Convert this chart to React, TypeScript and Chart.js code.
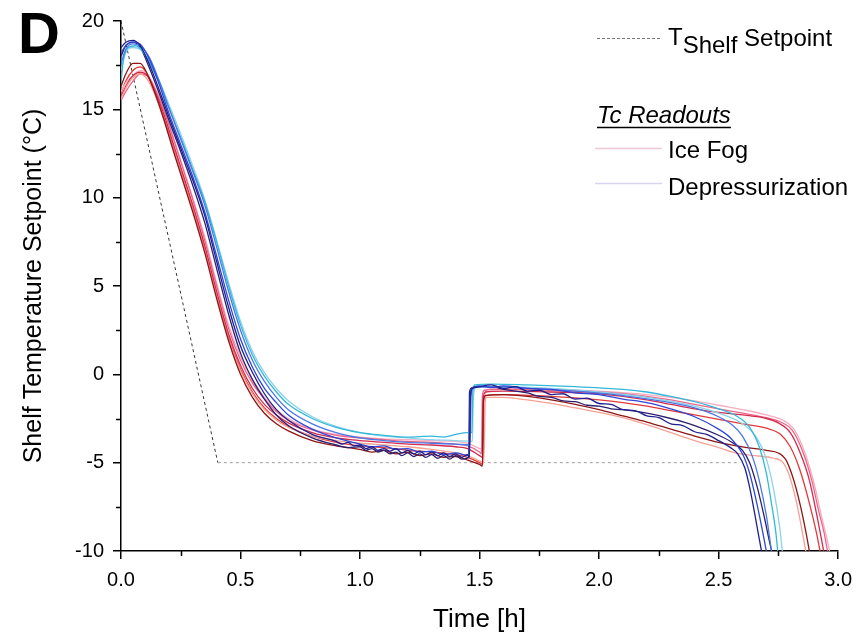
import React, { useEffect, useRef } from 'react';
import { Chart, registerables } from 'chart.js';

Chart.register(...registerables);

const FONT = '"Liberation Sans", Arial, Helvetica, sans-serif';

// ---- axis ticks ----
const X_MIN = 0;
const X_MAX = 3;
const X_STEP = 0.5;
const X_MINOR = [0.25, 0.75, 1.25, 1.75, 2.25, 2.75];
const Y_MIN = -10;
const Y_MAX = 20;
const Y_STEP = 5;
const Y_MINOR = [-7.5, -2.5, 2.5, 7.5, 12.5, 17.5];

// ---- legend texts ----
const PANEL_LABEL = 'D';
const LEGEND_SETPOINT = ['T', 'Shelf', 'Setpoint'];
const LEGEND_GROUP = 'Tc Readouts';
const LEGEND_ICE = 'Ice Fog';
const LEGEND_DEP = 'Depressurization';

// ---- shelf setpoint [time h, °C] ----
const SETPOINT: number[][] = [[0, 20], [0.405, -5], [2.59, -5]];

// ---- Depressurization thermocouples [time h, °C] ----
const DEP_1: number[][] = [[0,18.5],[0.02,18.8],[0.05,18.9],[0.08,18.6],[0.12,17.5],[0.16,16.1],[0.2,14.6],[0.25,12.8],[0.3,11.0],[0.35,9.0],[0.4,6.4],[0.45,3.8],[0.5,1.6],[0.55,0.1],[0.6,-1.1],[0.65,-2.0],[0.7,-2.6],[0.8,-3.4],[0.9,-3.8],[0.925,-3.95],[0.95,-3.85],[0.975,-4.05],[1.0,-4.0],[1.025,-4.2],[1.05,-4.1],[1.075,-4.3],[1.1,-4.2],[1.125,-4.35],[1.15,-4.2],[1.175,-4.45],[1.2,-4.3],[1.225,-4.5],[1.25,-4.35],[1.275,-4.55],[1.3,-4.4],[1.325,-4.6],[1.35,-4.45],[1.375,-4.65],[1.4,-4.5],[1.425,-4.7],[1.45,-4.55],[1.458,-4.7],[1.462,-1.2],[1.47,-0.8],[1.5,-0.7],[1.55,-0.6],[1.6,-0.8],[1.65,-0.7],[1.7,-0.95],[1.75,-0.9],[1.8,-1.15],[1.85,-1.1],[1.9,-1.4],[1.95,-1.35],[2.0,-1.65],[2.05,-1.7],[2.1,-2.0],[2.15,-2.05],[2.2,-2.35],[2.25,-2.45],[2.3,-2.8],[2.35,-2.9],[2.4,-3.25],[2.45,-3.4],[2.5,-3.75],[2.55,-4.15],[2.58,-4.5],[2.61,-5.3],[2.63,-6.4],[2.65,-7.8],[2.67,-9.3],[2.685,-10.4]];
const DEP_2: number[][] = [[0,18.2],[0.02,18.6],[0.05,18.8],[0.08,18.7],[0.12,17.8],[0.16,16.4],[0.2,14.8],[0.25,13.0],[0.3,11.2],[0.35,9.2],[0.4,6.7],[0.45,4.2],[0.5,2.0],[0.55,0.4],[0.6,-0.8],[0.65,-1.6],[0.7,-2.3],[0.8,-3.1],[0.9,-3.6],[1.0,-3.95],[1.05,-4.1],[1.1,-4.05],[1.15,-4.25],[1.2,-4.2],[1.25,-4.4],[1.3,-4.35],[1.35,-4.55],[1.4,-4.45],[1.455,-4.6],[1.46,-1.5],[1.465,-0.8],[1.5,-0.65],[1.55,-0.75],[1.6,-0.65],[1.7,-0.8],[1.8,-0.85],[1.9,-1.05],[2.0,-1.15],[2.1,-1.4],[2.2,-1.6],[2.3,-1.95],[2.4,-2.4],[2.5,-3.1],[2.55,-3.6],[2.6,-4.5],[2.63,-5.6],[2.66,-7.3],[2.69,-9.3],[2.705,-10.4]];
const DEP_3: number[][] = [[0,17.6],[0.02,18.4],[0.05,18.7],[0.08,18.6],[0.12,17.9],[0.16,16.6],[0.2,15.1],[0.25,13.3],[0.3,11.5],[0.35,9.6],[0.4,7.2],[0.45,4.7],[0.5,2.5],[0.55,0.8],[0.6,-0.4],[0.65,-1.3],[0.7,-2.0],[0.8,-2.8],[0.9,-3.3],[1.0,-3.6],[1.1,-3.75],[1.2,-3.85],[1.3,-3.9],[1.4,-3.95],[1.46,-4.0],[1.465,-1.2],[1.475,-0.75],[1.55,-0.7],[1.7,-0.8],[1.9,-0.95],[2.1,-1.2],[2.3,-1.6],[2.4,-1.9],[2.5,-2.4],[2.56,-2.9],[2.6,-3.5],[2.64,-4.6],[2.67,-6.0],[2.7,-8.0],[2.725,-10.4]];
const DEP_4: number[][] = [[0,16.5],[0.01,17.8],[0.03,18.5],[0.06,18.6],[0.09,18.3],[0.12,17.6],[0.16,16.5],[0.2,15.1],[0.25,13.4],[0.3,11.6],[0.35,9.8],[0.4,7.5],[0.45,5.0],[0.5,2.8],[0.55,1.1],[0.6,-0.1],[0.65,-1.0],[0.7,-1.7],[0.8,-2.5],[0.9,-3.0],[1.0,-3.3],[1.1,-3.45],[1.2,-3.55],[1.3,-3.5],[1.35,-3.55],[1.4,-3.4],[1.45,-3.3],[1.468,-3.3],[1.472,-1.0],[1.48,-0.6],[1.55,-0.55],[1.7,-0.6],[1.9,-0.7],[2.1,-0.85],[2.2,-1.0],[2.3,-1.25],[2.4,-1.55],[2.5,-1.95],[2.58,-2.4],[2.63,-3.0],[2.67,-4.1],[2.7,-5.6],[2.72,-7.2],[2.74,-9.0],[2.75,-10.4]];
const DEP_5: number[][] = [[0,17.2],[0.02,18.2],[0.05,18.5],[0.08,18.4],[0.12,17.7],[0.16,16.6],[0.2,15.3],[0.25,13.6],[0.3,11.8],[0.35,9.9],[0.4,7.6],[0.45,5.2],[0.5,3.0],[0.55,1.3],[0.6,0.1],[0.65,-0.8],[0.7,-1.5],[0.8,-2.4],[0.9,-2.95],[1.0,-3.3],[1.1,-3.5],[1.2,-3.6],[1.3,-3.7],[1.4,-3.75],[1.47,-3.8],[1.474,-1.3],[1.485,-0.75],[1.6,-0.7],[1.8,-0.8],[2.0,-1.0],[2.2,-1.3],[2.4,-1.8],[2.5,-2.2],[2.6,-2.8],[2.66,-3.6],[2.7,-4.8],[2.73,-6.5],[2.755,-8.6],[2.77,-10.4]];
const DEP_6: number[][] = [[0,18.0],[0.02,18.6],[0.05,18.8],[0.08,18.5],[0.12,17.3],[0.16,15.9],[0.2,14.4],[0.25,12.6],[0.3,10.7],[0.35,8.6],[0.4,6.0],[0.45,3.4],[0.5,1.2],[0.55,-0.3],[0.6,-1.4],[0.65,-2.3],[0.7,-2.9],[0.8,-3.6],[0.9,-4.0],[0.95,-4.15],[1.0,-4.1],[1.025,-4.3],[1.05,-4.2],[1.075,-4.4],[1.1,-4.3],[1.125,-4.5],[1.15,-4.4],[1.175,-4.6],[1.2,-4.45],[1.225,-4.65],[1.25,-4.5],[1.275,-4.7],[1.3,-4.55],[1.325,-4.75],[1.35,-4.6],[1.375,-4.8],[1.4,-4.6],[1.425,-4.8],[1.455,-4.7],[1.458,-1.0],[1.47,-0.75],[1.55,-0.7],[1.6,-0.85],[1.65,-0.95],[1.7,-1.05],[1.75,-1.25],[1.8,-1.3],[1.85,-1.5],[1.9,-1.55],[1.95,-1.75],[2.0,-1.8],[2.05,-1.95],[2.1,-2.0],[2.2,-2.2],[2.3,-2.5],[2.4,-2.9],[2.5,-3.45],[2.55,-3.8],[2.6,-4.3],[2.63,-5.0],[2.66,-6.3],[2.69,-8.0],[2.715,-9.6],[2.73,-10.4]];

// ---- Ice Fog thermocouples [time h, °C] ----
const ICE_1: number[][] = [[0,16.3],[0.02,17.0],[0.05,17.6],[0.08,17.6],[0.11,17.0],[0.14,16.0],[0.18,14.4],[0.22,12.6],[0.26,10.9],[0.3,9.2],[0.35,6.9],[0.4,4.3],[0.45,1.9],[0.5,0.0],[0.55,-1.3],[0.6,-2.2],[0.65,-2.8],[0.7,-3.2],[0.8,-3.75],[0.9,-4.05],[1.0,-4.25],[1.05,-4.4],[1.1,-4.3],[1.15,-4.5],[1.2,-4.4],[1.25,-4.6],[1.3,-4.5],[1.35,-4.7],[1.4,-4.65],[1.45,-4.85],[1.5,-5.1],[1.512,-5.2],[1.516,-1.5],[1.525,-1.2],[1.6,-1.15],[1.7,-1.25],[1.8,-1.45],[1.9,-1.7],[2.0,-2.0],[2.1,-2.35],[2.2,-2.7],[2.3,-3.1],[2.4,-3.5],[2.5,-3.85],[2.6,-4.1],[2.7,-4.3],[2.75,-4.45],[2.78,-4.8],[2.81,-5.8],[2.84,-7.3],[2.865,-8.9],[2.885,-10.4]];
const ICE_2: number[][] = [[0,15.6],[0.02,16.2],[0.05,16.8],[0.08,17.0],[0.11,16.7],[0.14,15.9],[0.18,14.4],[0.22,12.7],[0.26,11.0],[0.3,9.3],[0.35,7.0],[0.4,4.4],[0.45,2.0],[0.5,0.2],[0.55,-1.1],[0.6,-2.0],[0.65,-2.6],[0.7,-3.0],[0.8,-3.5],[0.9,-3.75],[1.0,-3.9],[1.1,-4.0],[1.2,-4.1],[1.3,-4.25],[1.4,-4.45],[1.45,-4.6],[1.5,-4.9],[1.518,-5.0],[1.522,-1.6],[1.53,-1.3],[1.6,-1.3],[1.7,-1.45],[1.8,-1.65],[1.9,-1.9],[2.0,-2.15],[2.1,-2.45],[2.2,-2.85],[2.3,-3.3],[2.4,-3.75],[2.5,-4.15],[2.57,-4.45],[2.65,-4.6],[2.73,-4.75],[2.77,-5.0],[2.8,-5.9],[2.83,-7.5],[2.85,-8.9],[2.87,-10.4]];
const ICE_3: number[][] = [[0,15.7],[0.02,16.3],[0.05,16.9],[0.08,17.1],[0.11,16.9],[0.14,16.1],[0.18,14.7],[0.22,13.0],[0.26,11.3],[0.3,9.6],[0.35,7.3],[0.4,4.7],[0.45,2.3],[0.5,0.5],[0.55,-0.8],[0.6,-1.7],[0.65,-2.3],[0.7,-2.75],[0.8,-3.3],[0.9,-3.6],[1.0,-3.75],[1.1,-3.85],[1.2,-3.95],[1.3,-4.0],[1.4,-4.1],[1.45,-4.2],[1.5,-4.6],[1.512,-4.7],[1.516,-1.3],[1.525,-1.0],[1.6,-0.95],[1.8,-1.0],[2.0,-1.1],[2.1,-1.25],[2.2,-1.45],[2.3,-1.7],[2.4,-1.95],[2.5,-2.15],[2.6,-2.3],[2.7,-2.5],[2.75,-2.75],[2.8,-3.3],[2.84,-4.4],[2.88,-6.0],[2.91,-7.9],[2.93,-9.3],[2.945,-10.4]];
const ICE_4: number[][] = [[0,15.5],[0.02,16.0],[0.05,16.6],[0.08,17.0],[0.11,16.9],[0.14,16.2],[0.18,14.9],[0.22,13.3],[0.26,11.6],[0.3,9.9],[0.35,7.6],[0.4,5.0],[0.45,2.6],[0.5,0.8],[0.55,-0.5],[0.6,-1.4],[0.65,-2.1],[0.7,-2.6],[0.8,-3.15],[0.9,-3.45],[1.0,-3.6],[1.1,-3.7],[1.2,-3.8],[1.3,-3.85],[1.4,-3.95],[1.45,-4.05],[1.5,-4.4],[1.508,-4.5],[1.512,-1.2],[1.52,-0.9],[1.6,-0.85],[1.8,-0.9],[2.0,-1.0],[2.1,-1.1],[2.2,-1.25],[2.3,-1.45],[2.4,-1.7],[2.5,-1.95],[2.6,-2.2],[2.7,-2.45],[2.76,-2.7],[2.81,-3.2],[2.85,-4.3],[2.89,-6.0],[2.92,-7.8],[2.945,-9.2],[2.96,-10.4]];
const ICE_5: number[][] = [[0,16.0],[0.02,16.5],[0.05,16.9],[0.08,17.2],[0.11,17.0],[0.14,16.3],[0.18,15.0],[0.22,13.4],[0.26,11.7],[0.3,10.0],[0.35,7.8],[0.4,5.2],[0.45,2.8],[0.5,1.0],[0.55,-0.3],[0.6,-1.3],[0.65,-2.0],[0.7,-2.5],[0.8,-3.1],[0.9,-3.4],[1.0,-3.55],[1.1,-3.65],[1.2,-3.7],[1.3,-3.75],[1.4,-3.8],[1.45,-3.9],[1.5,-4.2],[1.52,-4.3],[1.524,-1.1],[1.535,-0.85],[1.6,-0.8],[1.8,-0.85],[2.0,-0.95],[2.2,-1.15],[2.4,-1.5],[2.5,-1.75],[2.6,-2.0],[2.7,-2.3],[2.77,-2.6],[2.82,-3.2],[2.86,-4.4],[2.9,-6.2],[2.93,-8.0],[2.955,-9.4],[2.97,-10.4]];
const ICE_6: number[][] = [[0,15.9],[0.02,16.6],[0.05,17.2],[0.08,17.4],[0.11,17.0],[0.14,16.0],[0.18,14.5],[0.22,12.8],[0.26,11.1],[0.3,9.4],[0.35,7.1],[0.4,4.5],[0.45,2.1],[0.5,0.3],[0.55,-1.0],[0.6,-1.9],[0.65,-2.5],[0.7,-2.95],[0.8,-3.5],[0.9,-3.85],[1.0,-4.05],[1.1,-4.15],[1.2,-4.3],[1.3,-4.4],[1.4,-4.55],[1.45,-4.7],[1.5,-5.0],[1.514,-5.1],[1.518,-1.5],[1.526,-1.2],[1.6,-1.15],[1.8,-1.25],[2.0,-1.45],[2.1,-1.6],[2.2,-1.8],[2.3,-2.05],[2.4,-2.3],[2.5,-2.55],[2.6,-2.8],[2.7,-3.05],[2.76,-3.4],[2.8,-4.1],[2.84,-5.4],[2.88,-7.3],[2.91,-9.0],[2.93,-10.4]];

const DEP_SERIES = [DEP_1, DEP_2, DEP_3, DEP_4, DEP_5, DEP_6];
const DEP_COLORS = ['#1f1f8f', '#2f47d8', '#4a78e6', '#33b8d8', '#8ad2ea', '#2a2070'];
const ICE_SERIES = [ICE_1, ICE_2, ICE_3, ICE_4, ICE_5, ICE_6];
const ICE_COLORS = ['#8e1616', '#f3a294', '#d42a4c', '#ee6488', '#f5adc0', '#e23a3a'];

const toXY = (arr: number[][]) => arr.map(([x, y]) => ({ x, y }));

const overlayPlugin = {
  id: 'overlay',
  afterDraw(chart: any) {
    const ctx: CanvasRenderingContext2D = chart.ctx;
    const xs = chart.scales.x;
    const ys = chart.scales.y;
    const area = chart.chartArea;
    ctx.save();
    // minor ticks
    ctx.strokeStyle = '#000';
    ctx.lineWidth = 1.5;
    X_MINOR.forEach((v) => {
      const px = Math.round(xs.getPixelForValue(v)) + 0.5;
      ctx.beginPath();
      ctx.moveTo(px, area.bottom);
      ctx.lineTo(px, area.bottom + 5);
      ctx.stroke();
    });
    Y_MINOR.forEach((v) => {
      const py = Math.round(ys.getPixelForValue(v)) + 0.5;
      ctx.beginPath();
      ctx.moveTo(area.left, py);
      ctx.lineTo(area.left - 5, py);
      ctx.stroke();
    });

    // panel label
    ctx.fillStyle = '#000';
    ctx.textAlign = 'left';
    ctx.textBaseline = 'alphabetic';
    ctx.font = `bold 58px ${FONT}`;
    ctx.fillText(PANEL_LABEL, 18, 53);

    // legend: setpoint
    ctx.strokeStyle = '#777';
    ctx.lineWidth = 1;
    ctx.setLineDash([3, 2]);
    ctx.beginPath();
    ctx.moveTo(597, 38.5);
    ctx.lineTo(661, 38.5);
    ctx.stroke();
    ctx.setLineDash([]);
    ctx.font = `24px ${FONT}`;
    let x = 668;
    ctx.fillText(LEGEND_SETPOINT[0], x, 45);
    x += ctx.measureText(LEGEND_SETPOINT[0]).width;
    ctx.fillText(LEGEND_SETPOINT[1], x, 53);
    x += ctx.measureText(LEGEND_SETPOINT[1] + ' ').width;
    ctx.fillText(LEGEND_SETPOINT[2], x, 46);

    // group header
    ctx.font = `italic 24px ${FONT}`;
    ctx.fillText(LEGEND_GROUP, 597, 123);
    const w = ctx.measureText(LEGEND_GROUP).width;
    ctx.lineWidth = 1.3;
    ctx.strokeStyle = '#000';
    ctx.beginPath();
    ctx.moveTo(597, 127.5);
    ctx.lineTo(597 + w, 127.5);
    ctx.stroke();

    // entries
    ctx.font = `24px ${FONT}`;
    ctx.lineWidth = 1.5;
    ctx.strokeStyle = '#ecc8d8';
    ctx.beginPath();
    ctx.moveTo(595, 148.5);
    ctx.lineTo(662, 148.5);
    ctx.stroke();
    ctx.fillText(LEGEND_ICE, 668, 158);
    ctx.strokeStyle = '#d6d6f0';
    ctx.beginPath();
    ctx.moveTo(595, 183.5);
    ctx.lineTo(662, 183.5);
    ctx.stroke();
    ctx.fillText(LEGEND_DEP, 668, 195);
    ctx.restore();
  },
};

export default function App() {
  const ref = useRef<HTMLCanvasElement>(null);
  useEffect(() => {
    if (!ref.current) return;
    Chart.defaults.font.family = FONT;
    Chart.defaults.color = '#000';
    const lineDs = (label: string, arr: number[][], color: string) => ({
      label,
      data: toXY(arr),
      borderColor: color,
      backgroundColor: color,
      borderWidth: 1.3,
      pointRadius: 0,
      showLine: true,
      fill: false,
      cubicInterpolationMode: 'monotone',
    });
    const datasets: any[] = [
      ...DEP_SERIES.map((s, i) => lineDs(`Depressurization ${i + 1}`, s, DEP_COLORS[i])),
      ...ICE_SERIES.map((s, i) => lineDs(`Ice Fog ${i + 1}`, s, ICE_COLORS[i])),
      {
        label: 'Shelf Setpoint',
        data: toXY(SETPOINT),
        borderColor: '#555',
        borderWidth: 1,
        borderDash: [3, 3],
        pointRadius: 0,
        showLine: true,
        fill: false,
        segment: {
          borderColor: (c: any) => (c.p0.parsed.x < 0.4 ? '#333' : '#a0a0a0'),
        },
      },
    ];
    const chart = new Chart(ref.current, {
      type: 'scatter',
      data: { datasets },
      plugins: [overlayPlugin],
      options: {
        animation: false,
        responsive: true,
        maintainAspectRatio: false,
        layout: { padding: { top: 16, right: 22, left: 0, bottom: 0 } },
        plugins: { legend: { display: false }, tooltip: { enabled: false } },
        scales: {
          x: {
            type: 'linear',
            min: X_MIN,
            max: X_MAX,
            afterFit: (s: any) => { s.height = 84; },
            ticks: {
              stepSize: X_STEP,
              font: { size: 20 },
              color: '#000',
              padding: 9,
              maxRotation: 0,
              callback: (v: any) => Number(v).toFixed(1),
            },
            grid: { drawOnChartArea: false, drawTicks: true, tickLength: 8, color: '#000', lineWidth: 1.5 },
            border: { color: '#000', width: 1.5 },
            title: { display: true, text: 'Time [h]', font: { size: 26 }, color: '#000', padding: { top: 0, bottom: 0 } },
          },
          y: {
            type: 'linear',
            min: Y_MIN,
            max: Y_MAX,
            afterFit: (s: any) => { s.width = 121; },
            ticks: { stepSize: Y_STEP, font: { size: 20 }, color: '#000', padding: 9 },
            grid: { drawOnChartArea: false, drawTicks: true, tickLength: 8, color: '#000', lineWidth: 1.5 },
            border: { color: '#000', width: 1.5 },
            title: { display: true, text: 'Shelf Temperature Setpoint (°C)', font: { size: 25 }, color: '#000', padding: { top: 19, bottom: 0 } },
          },
        },
      } as any,
    });
    return () => chart.destroy();
  }, []);
  return (
    <div style={{ position: 'fixed', left: 0, top: 0, width: 861, height: 635, background: '#fff' }}>
      <canvas ref={ref} />
    </div>
  );
}
